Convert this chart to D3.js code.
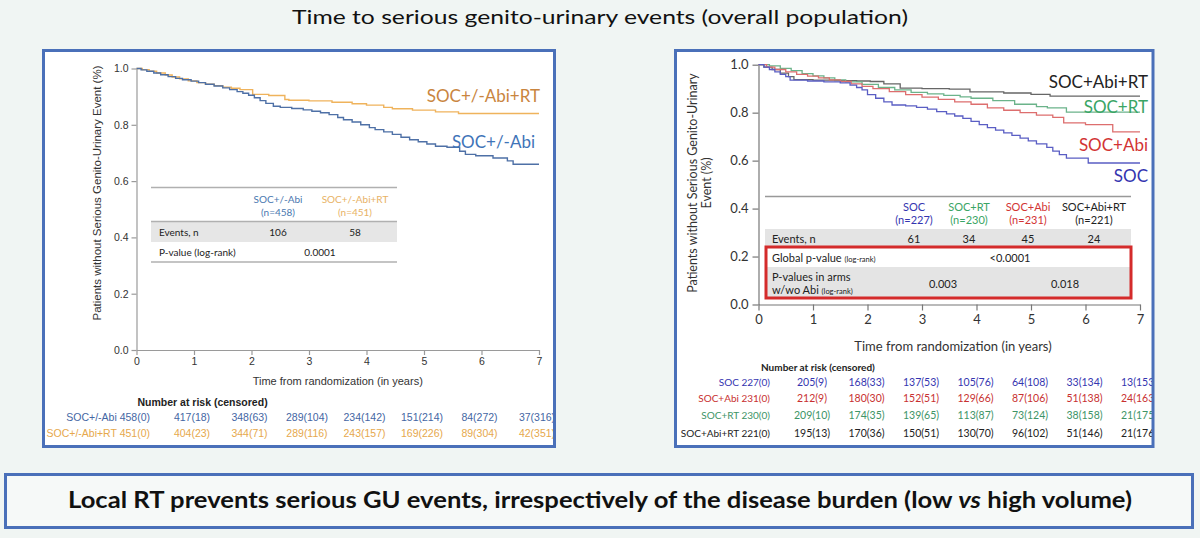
<!DOCTYPE html>
<html><head><meta charset="utf-8">
<script src="https://cdn.jsdelivr.net/npm/d3@7"></script>
<style>
html,body{margin:0;padding:0;background:#f0f5f3;}
svg{display:block;}
</style></head><body>
<svg id="chart" width="1200" height="538"></svg>
<script>
// ---------------- DATA ----------------
const titleText = "Time to serious genito-urinary events (overall population)";
const yearTicks = [0, 1, 2, 3, 4, 5, 6, 7];
const survTicks = [0, 0.2, 0.4, 0.6, 0.8, 1.0];

// Left panel: SOC+/-Abi vs SOC+/-Abi+RT
const leftNames = ["SOC+/-Abi", "SOC+/-Abi+RT"];
const leftN = [458, 451];
const leftEvents = [106, 58];
const leftPValue = "0.0001";
const tAbi = [0,0.08,0.18,0.3,0.42,0.55,0.68,0.8,0.95,1.08,1.2,1.35,1.5,1.62,1.75,1.85,1.95,2.05,2.15,2.25,2.38,2.5,2.7,2.9,3.05,3.2,3.35,3.5,3.6,3.75,3.9,4.05,4.15,4.3,4.45,4.6,4.75,4.9,5.05,5.2,5.4,5.62,5.72,5.9,6.2,6.45,6.55,7];
const sAbi = [1,0.995,0.99,0.984,0.978,0.971,0.965,0.96,0.955,0.95,0.944,0.938,0.931,0.925,0.918,0.912,0.905,0.896,0.886,0.876,0.866,0.862,0.858,0.853,0.848,0.843,0.836,0.826,0.818,0.81,0.8,0.79,0.783,0.775,0.766,0.756,0.747,0.74,0.732,0.724,0.72,0.706,0.695,0.69,0.682,0.672,0.66,0.66];
const tAbiRT = [0,0.1,0.22,0.35,0.5,0.62,0.75,0.9,1.05,1.2,1.35,1.5,1.65,1.8,2.02,2.3,2.58,2.65,3.0,3.4,3.75,4.0,4.3,4.45,4.8,5.2,5.6,7];
const sAbiRT = [1,0.996,0.99,0.984,0.977,0.97,0.963,0.956,0.95,0.944,0.939,0.934,0.93,0.925,0.908,0.904,0.89,0.887,0.885,0.88,0.875,0.87,0.862,0.857,0.852,0.846,0.84,0.84];
const riskAbi = ["417(18)","348(63)","289(104)","234(142)","151(214)","84(272)","37(316)"];
const riskAbiRT = ["404(23)","344(71)","289(116)","243(157)","169(226)","89(304)","42(351)"];
const riskAbi0 = "458(0)", riskAbiRT0 = "451(0)";

// Right panel: 4 arms
const rightNames = ["SOC", "SOC+RT", "SOC+Abi", "SOC+Abi+RT"];
const rightN = [227, 230, 231, 221];
const rightEvents = [61, 34, 45, 24];
const globalP = "<0.0001";
const armP = ["0.003", "0.018"];
const tSOC = [0,0.1,0.2,0.3,0.4,0.5,0.58,0.9,1.2,1.5,1.68,1.8,1.9,2.0,2.15,2.3,2.45,2.7,2.9,3.1,3.27,3.45,3.6,3.75,3.9,4.05,4.2,4.35,4.5,4.65,4.8,4.95,5.1,5.29,5.4,5.52,5.65,6.05,7];
const sSOC = [1,0.99,0.98,0.97,0.96,0.95,0.936,0.932,0.928,0.924,0.915,0.905,0.895,0.875,0.86,0.845,0.832,0.828,0.822,0.815,0.804,0.795,0.786,0.776,0.764,0.75,0.738,0.727,0.716,0.705,0.694,0.682,0.67,0.655,0.64,0.625,0.61,0.59,0.59];
const tSOCRT = [0,0.2,0.4,0.6,0.8,1.0,1.2,1.4,1.6,1.9,2.2,2.5,2.8,3.1,3.4,3.7,3.9,4.3,4.7,5.1,5.3,5.65,7];
const sSOCRT = [1,0.995,0.985,0.975,0.963,0.953,0.945,0.937,0.928,0.918,0.905,0.895,0.885,0.878,0.872,0.866,0.86,0.85,0.835,0.825,0.82,0.802,0.802];
const tSOCAbi = [0,0.15,0.3,0.5,0.7,0.9,1.1,1.3,1.5,1.7,1.9,2.1,2.4,2.7,3.0,3.3,3.6,3.9,4.2,4.5,4.8,5.1,5.4,5.6,6.0,6.5,7];
const sSOCAbi = [1,0.99,0.98,0.97,0.96,0.952,0.945,0.937,0.93,0.92,0.91,0.9,0.888,0.875,0.865,0.855,0.845,0.835,0.82,0.81,0.8,0.79,0.78,0.757,0.75,0.72,0.72];
const tSOCAbiRT = [0,0.1,0.25,0.4,0.55,0.65,1.0,1.4,1.8,2.05,2.3,2.6,3.0,3.5,3.88,4.5,5.0,5.35,7];
const sSOCAbiRT = [1,0.99,0.98,0.965,0.95,0.938,0.936,0.934,0.932,0.93,0.92,0.902,0.9,0.898,0.887,0.882,0.876,0.869,0.869];
const riskSOC = ["227(0)","205(9)","168(33)","137(53)","105(76)","64(108)","33(134)","13(153)"];
const riskSOCAbi = ["231(0)","212(9)","180(30)","152(51)","129(66)","87(106)","51(138)","24(163)"];
const riskSOCRT = ["230(0)","209(10)","174(35)","139(65)","113(87)","73(124)","38(158)","21(175)"];
const riskSOCAbiRT = ["221(0)","195(13)","170(36)","150(51)","130(70)","96(102)","51(146)","21(176)"];

const bannerPre = "Local RT prevents serious GU events, irrespectively of the disease burden (low ";
const bannerIt = "vs";
const bannerPost = " high volume)";

// ---------------- DRAWING ----------------
const svg = d3.select("#chart");
const BORDER = "#4a70b9";
const CAL = "Lato, 'Open Sans', sans-serif";
const ARIAL = "'Liberation Sans', Arial, sans-serif";

svg.append("rect").attr("width",1200).attr("height",538).attr("fill","#f0f5f3");

// title
svg.append("text").attr("x",600).attr("y",24).attr("text-anchor","middle")
  .attr("font-family",CAL).attr("font-weight",400).attr("font-size",20).attr("fill","#111")
  .attr("textLength",616).attr("lengthAdjust","spacingAndGlyphs").text(titleText);

const defs = svg.append("defs");
defs.append("clipPath").attr("id","clipL").append("rect").attr("x",44).attr("y",52).attr("width",509).attr("height",393);
defs.append("clipPath").attr("id","clipR").append("rect").attr("x",677).attr("y",52).attr("width",475).attr("height",393);

// ---- LEFT PANEL ----
svg.append("rect").attr("x",43.5).attr("y",50.5).attr("width",511).attr("height",396)
  .attr("fill","#fff");
const gL = svg.append("g").attr("clip-path","url(#clipL)");
const xL = d3.scaleLinear().domain([0,7]).range([136.5,539]);
const yL = d3.scaleLinear().domain([0,1]).range([350,68.5]);

const axYL = gL.append("g").attr("transform","translate(136.5,0)")
  .call(d3.axisLeft(yL).tickValues(survTicks).tickFormat(d3.format(".1f")).tickSize(5).tickSizeOuter(0).tickPadding(3));
const axXL = gL.append("g").attr("transform","translate(0,350)")
  .call(d3.axisBottom(xL).tickValues(yearTicks).tickFormat(d3.format("d")).tickSize(5).tickSizeOuter(0).tickPadding(3));
[axYL, axXL].forEach(a=>{
  a.selectAll("path,line").attr("stroke","#9a9a9a").attr("stroke-width",1.2);
  a.selectAll("text").attr("font-family",ARIAL).attr("font-size",10.5).attr("fill","#333");
});
gL.append("text").attr("transform","translate(101,193) rotate(-90)").attr("text-anchor","middle")
  .attr("font-family",ARIAL).attr("font-size",11.5).attr("fill","#333")
  .text("Patients without Serious Genito-Urinary Event (%)");
gL.append("text").attr("x",xL(3.5)).attr("y",384.5).attr("text-anchor","middle")
  .attr("font-family",ARIAL).attr("font-size",11).attr("fill","#333")
  .text("Time from randomization (in years)");

const stepLineL = d3.line().x(d=>xL(d[0])).y(d=>yL(d[1])).curve(d3.curveStepAfter);
const leftSeries = [
  {t:tAbiRT, s:sAbiRT, color:"#efb35c"},
  {t:tAbi, s:sAbi, color:"#4e70a6"}
];
leftSeries.forEach(se=>{
  gL.append("path").datum(d3.zip(se.t, se.s)).attr("d",stepLineL)
    .attr("fill","none").attr("stroke",se.color).attr("stroke-width",1.4);
});
gL.append("text").attr("x",540).attr("y",102).attr("text-anchor","end")
  .attr("font-family",CAL).attr("font-size",17).attr("fill","#c98540").text(leftNames[1]);
gL.append("text").attr("x",535).attr("y",148).attr("text-anchor","end")
  .attr("font-family",CAL).attr("font-size",17).attr("fill","#3f74b8").text(leftNames[0]);

// left table
const tL = gL.append("g");
const colL = [278, 355];
tL.append("rect").attr("x",151).attr("y",187.5).attr("width",246).attr("height",74.5).attr("fill","#fff");
tL.append("rect").attr("x",151).attr("y",221.5).attr("width",246).attr("height",20.5).attr("fill","#e6e6e6");
[187.5, 221.5, 262].forEach(y=>tL.append("line").attr("x1",151).attr("x2",397).attr("y1",y).attr("y2",y)
  .attr("stroke","#b0b0b0").attr("stroke-width",1.3));
const lcol = ["#4a78b0","#e8b265"];
leftNames.forEach((n,i)=>{
  tL.append("text").attr("x",colL[i]).attr("y",202.5).attr("text-anchor","middle")
    .attr("font-family",CAL).attr("font-size",10).attr("fill",lcol[i]).text(n);
  tL.append("text").attr("x",colL[i]).attr("y",215.5).attr("text-anchor","middle")
    .attr("font-family",CAL).attr("font-size",10).attr("fill",lcol[i]).text("(n="+leftN[i]+")");
  tL.append("text").attr("x",colL[i]).attr("y",235.5).attr("text-anchor","middle")
    .attr("font-family",CAL).attr("font-size",10).attr("fill","#222").text(leftEvents[i]);
});
tL.append("text").attr("x",159).attr("y",235.5).attr("font-family",CAL).attr("font-size",10).attr("fill","#222").text("Events, n");
tL.append("text").attr("x",159).attr("y",255.5).attr("font-family",CAL).attr("font-size",10).attr("fill","#222").text("P-value (log-rank)");
tL.append("text").attr("x",320).attr("y",255.5).attr("text-anchor","middle").attr("font-family",CAL).attr("font-size",10).attr("fill","#222").text(leftPValue);

// left number at risk
gL.append("text").attr("x",137.5).attr("y",405.5).attr("font-family",ARIAL).attr("font-weight","bold")
  .attr("font-size",10.5).attr("fill","#222").text("Number at risk (censored)");
const leftRisk = [
  {name:leftNames[0], r0:riskAbi0, r:riskAbi, color:"#4466a3", y:420.5},
  {name:leftNames[1], r0:riskAbiRT0, r:riskAbiRT, color:"#e6a84c", y:436.5}
];
leftRisk.forEach(row=>{
  gL.append("text").attr("x",150).attr("y",row.y).attr("text-anchor","end")
    .attr("font-family",ARIAL).attr("font-size",10.5).attr("fill",row.color).text(row.name+" "+row.r0);
  gL.selectAll(null).data(row.r).enter().append("text")
    .attr("x",(d,i)=>xL(i+1)-2).attr("y",row.y).attr("text-anchor","middle")
    .attr("font-family",ARIAL).attr("font-size",10.5).attr("fill",row.color).text(d=>d);
});
svg.append("rect").attr("x",43.5).attr("y",50.5).attr("width",511).attr("height",396)
  .attr("fill","none").attr("stroke",BORDER).attr("stroke-width",3);

// ---- RIGHT PANEL ----
svg.append("rect").attr("x",675.5).attr("y",50.5).attr("width",477.5).attr("height",396).attr("fill","#fff");
const gR = svg.append("g").attr("clip-path","url(#clipR)");
const xR = d3.scaleLinear().domain([0,7]).range([758.5,1140]);
const yR = d3.scaleLinear().domain([0,1]).range([304.5,64.7]);
const axYR = gR.append("g").attr("transform","translate(758.5,0)")
  .call(d3.axisLeft(yR).tickValues(survTicks).tickFormat(d3.format(".1f")).tickSize(6).tickSizeOuter(0).tickPadding(4));
const axXR = gR.append("g").attr("transform","translate(0,304.5)")
  .call(d3.axisBottom(xR).tickValues(yearTicks).tickFormat(d3.format("d")).tickSize(6).tickSizeOuter(0).tickPadding(4));
[axYR, axXR].forEach(a=>{
  a.selectAll("path,line").attr("stroke","#777").attr("stroke-width",1.2);
  a.selectAll("text").attr("font-family",CAL).attr("font-size",13).attr("fill","#333");
});
const yLab = gR.append("text").attr("transform","translate(0,183) rotate(-90)").attr("text-anchor","middle")
  .attr("font-family",CAL).attr("font-size",12.5).attr("fill","#333");
yLab.append("tspan").attr("x",0).attr("y",697).text("Patients without Serious Genito-Urinary");
yLab.append("tspan").attr("x",0).attr("y",711).text("Event (%)");
gR.append("text").attr("x",953).attr("y",351).attr("text-anchor","middle")
  .attr("font-family",CAL).attr("font-size",13).attr("fill","#333")
  .text("Time from randomization (in years)");

const stepLineR = d3.line().x(d=>xR(d[0])).y(d=>yR(d[1])).curve(d3.curveStepAfter);
const rightSeries = [
  {t:tSOCAbiRT, s:sSOCAbiRT, color:"#666"},
  {t:tSOCRT, s:sSOCRT, color:"#6bb38a"},
  {t:tSOCAbi, s:sSOCAbi, color:"#dd6e6e"},
  {t:tSOC, s:sSOC, color:"#5a5ec4"}
];
rightSeries.forEach(se=>{
  gR.append("path").datum(d3.zip(se.t, se.s)).attr("d",stepLineR)
    .attr("fill","none").attr("stroke",se.color).attr("stroke-width",1.3);
});
const rLabels = [
  {text:rightNames[3], y:88, color:"#222"},
  {text:rightNames[1], y:112.5, color:"#3aa565"},
  {text:rightNames[2], y:151, color:"#d23434"},
  {text:rightNames[0], y:182, color:"#3535b0"}
];
rLabels.forEach(l=>gR.append("text").attr("x",1148).attr("y",l.y).attr("text-anchor","end")
  .attr("font-family",CAL).attr("font-size",17).attr("fill",l.color).text(l.text));

// right table
const tR = gR.append("g");
const colR = [914, 969, 1028, 1094];
const rcol = ["#3535b0","#3aa565","#d23434","#222"];
tR.append("rect").attr("x",765).attr("y",196.5).attr("width",366).attr("height",102).attr("fill","#fff");
tR.append("line").attr("x1",765).attr("x2",1131).attr("y1",196.5).attr("y2",196.5).attr("stroke","#999").attr("stroke-width",1.3);
tR.append("rect").attr("x",765).attr("y",229).attr("width",366).attr("height",18).attr("fill","#e4e4e4");
tR.append("rect").attr("x",766).attr("y",267).attr("width",364).attr("height",31).attr("fill","#e4e4e4");
rightNames.forEach((n,i)=>{
  tR.append("text").attr("x",colR[i]).attr("y",211).attr("text-anchor","middle")
    .attr("font-family",CAL).attr("font-size",11).attr("fill",rcol[i]).text(n);
  tR.append("text").attr("x",colR[i]).attr("y",224).attr("text-anchor","middle")
    .attr("font-family",CAL).attr("font-size",11).attr("fill",rcol[i]).text("(n="+rightN[i]+")");
  tR.append("text").attr("x",colR[i]).attr("y",242.5).attr("text-anchor","middle")
    .attr("font-family",CAL).attr("font-size",11).attr("fill","#222").text(rightEvents[i]);
});
tR.append("text").attr("x",772).attr("y",242.5).attr("font-family",CAL).attr("font-size",11).attr("fill","#222").text("Events, n");
const gp = tR.append("text").attr("x",772).attr("y",261.5).attr("font-family",CAL).attr("font-size",11).attr("fill","#222");
gp.append("tspan").text("Global p-value ");
gp.append("tspan").attr("font-size",7.5).text("(log-rank)");
tR.append("text").attr("x",1010).attr("y",261.5).attr("text-anchor","middle").attr("font-family",CAL).attr("font-size",11).attr("fill","#222").text(globalP);
tR.append("text").attr("x",772).attr("y",280.5).attr("font-family",CAL).attr("font-size",11).attr("fill","#222").text("P-values in arms");
const wa = tR.append("text").attr("x",772).attr("y",293.5).attr("font-family",CAL).attr("font-size",11).attr("fill","#222");
wa.append("tspan").text("w/wo Abi ");
wa.append("tspan").attr("font-size",7.5).text("(log-rank)");
tR.append("text").attr("x",943).attr("y",288).attr("text-anchor","middle").attr("font-family",CAL).attr("font-size",11).attr("fill","#222").text(armP[0]);
tR.append("text").attr("x",1065).attr("y",288).attr("text-anchor","middle").attr("font-family",CAL).attr("font-size",11).attr("fill","#222").text(armP[1]);
tR.append("rect").attr("x",766).attr("y",247).attr("width",365).attr("height",51)
  .attr("fill","none").attr("stroke","#d42b2b").attr("stroke-width",3);

// right number at risk
gR.append("text").attr("x",761).attr("y",371).attr("font-family",CAL).attr("font-weight","bold")
  .attr("font-size",10).attr("fill","#222").text("Number at risk (censored)");
const rightRisk = [
  {name:"SOC", r:riskSOC, color:"#3535b0", y:385.5},
  {name:"SOC+Abi", r:riskSOCAbi, color:"#c83030", y:402},
  {name:"SOC+RT", r:riskSOCRT, color:"#3d9466", y:419},
  {name:"SOC+Abi+RT", r:riskSOCAbiRT, color:"#222", y:437}
];
rightRisk.forEach(row=>{
  gR.append("text").attr("x",770).attr("y",row.y).attr("text-anchor","end")
    .attr("font-family",CAL).attr("font-size",10).attr("fill",row.color).text(row.name+" "+row.r[0]);
  gR.selectAll(null).data(row.r.slice(1)).enter().append("text")
    .attr("x",(d,i)=>xR(i+1)-1).attr("y",row.y).attr("text-anchor","middle")
    .attr("font-family",CAL).attr("font-size",10.5).attr("fill",row.color).text(d=>d);
});
svg.append("rect").attr("x",675.5).attr("y",50.5).attr("width",477.5).attr("height",396)
  .attr("fill","none").attr("stroke",BORDER).attr("stroke-width",3);

// ---- BANNER ----
svg.append("rect").attr("x",5.5).attr("y",474.5).attr("width",1187).attr("height",53)
  .attr("fill","#f6f9f8").attr("stroke",BORDER).attr("stroke-width",3);
const bt = svg.append("text").attr("x",600).attr("y",508).attr("text-anchor","middle")
  .attr("font-family",CAL).attr("font-weight","bold").attr("font-size",22).attr("fill","#111")
  .attr("textLength",1064).attr("lengthAdjust","spacingAndGlyphs");
bt.append("tspan").text(bannerPre);
bt.append("tspan").attr("font-style","italic").text(bannerIt);
bt.append("tspan").text(bannerPost);
</script>
</body></html>
